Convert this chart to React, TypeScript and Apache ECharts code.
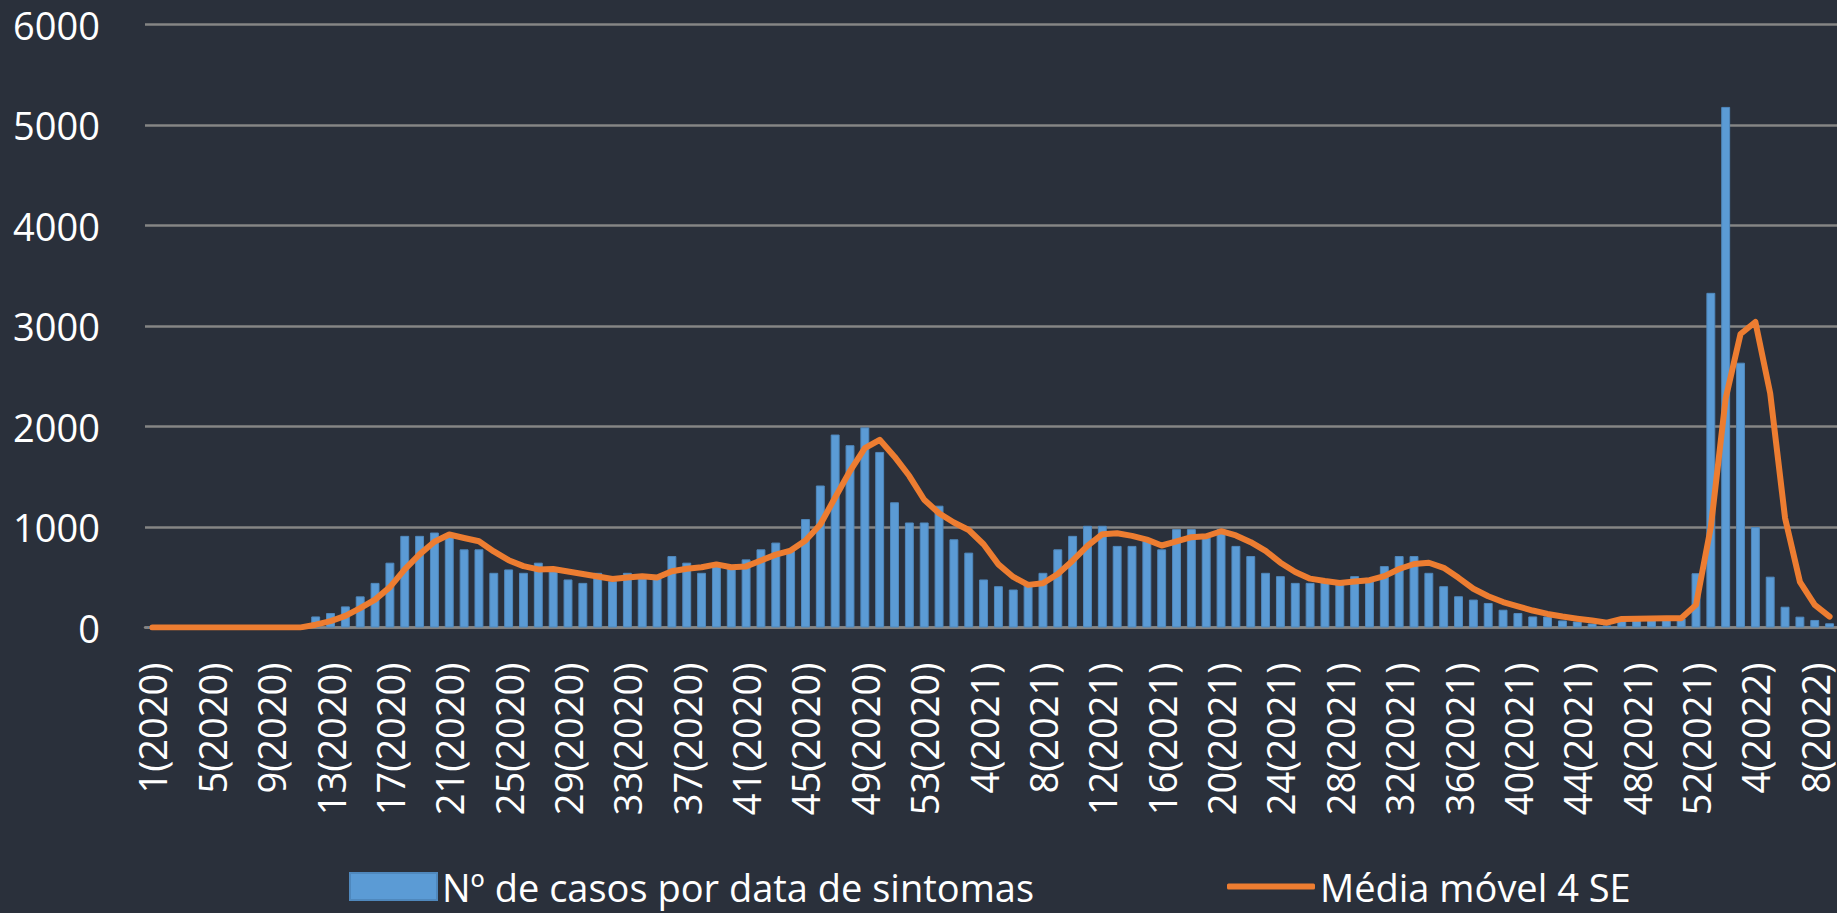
import React, { useEffect, useRef } from "react";
import * as echarts from "echarts";

const weeks2020 = 53;
const weeks2021 = 52;
const weeks2022 = 9;

const categories: string[] = [];
for (let w = 1; w <= weeks2020; w++) categories.push(`${w}(2020)`);
for (let w = 1; w <= weeks2021; w++) categories.push(`${w}(2021)`);
for (let w = 1; w <= weeks2022; w++) categories.push(`${w}(2022)`);

const casos2020 = [
  1, 0, 0, 0, 0, 0, 0, 0, 0, 1, 3, 110, 144, 210, 310, 444, 645, 912, 912, 945,
  929, 778, 778, 544, 578, 544, 645, 560, 478, 444, 544, 461, 544, 490, 494, 711,
  645, 544, 611, 600, 678, 778, 845, 762, 1079, 1413, 1920, 1814, 1991, 1747, 1246,
  1045, 1045,
];
const casos2021 = [
  1212, 878, 745, 478, 411, 378, 427, 544, 778, 912, 1012, 1012, 812, 812, 860, 778,
  979, 979, 895, 979, 812, 711, 544, 511, 444, 444, 450, 428, 511, 494, 611, 711,
  711, 544, 411, 311, 278, 244, 177, 144, 110, 110, 70, 60, 40, 20, 90, 90, 90, 90,
  90, 540,
];
const casos2022 = [3330, 5180, 2635, 1000, 506, 207, 108, 75, 42];

const media2020 = [
  0, 0, 0, 0, 0, 0, 0, 0, 0, 0, 1, 28, 64, 116, 193, 277, 402, 578, 728, 853, 925,
  891, 858, 757, 670, 611, 578, 582, 557, 532, 507, 482, 498, 510, 497, 560, 585,
  599, 628, 600, 608, 667, 725, 766, 866, 1025, 1294, 1557, 1785, 1868, 1700, 1507,
  1271,
];
const media2021 = [
  1137, 1045, 970, 828, 628, 503, 424, 440, 532, 665, 812, 929, 937, 912, 874, 816,
  857, 899, 908, 958, 916, 849, 762, 645, 553, 486, 462, 442, 458, 471, 511, 582,
  632, 644, 594, 494, 386, 311, 253, 211, 169, 135, 109, 88, 70, 48, 85, 88, 90, 92,
  92, 225,
];
const media2022 = [1000, 2280, 2920, 3040, 2330, 1090, 455, 225, 108];

const casos = [...casos2020, ...casos2021, ...casos2022];
const media = [...media2020, ...media2021, ...media2022];

const yTicks = { min: 0, max: 6000, interval: 1000 };

const seriesNames = ["Nº de casos por data de sintomas", "Média móvel 4 SE"];

const FONT = "'Open Sans', 'Noto Sans', sans-serif";

export default function App() {
  const ref = useRef<HTMLDivElement>(null);

  useEffect(() => {
    if (!ref.current) return;
    const chart = echarts.init(ref.current, null, { renderer: "svg" });
    const legendText = {
      color: "#ffffff",
      fontSize: 38,
      fontFamily: FONT,
      lineHeight: 38,
      padding: [4, 0, 0, 0],
    };
    chart.setOption({
      animation: false,
      backgroundColor: "#2a303b",
      grid: { left: 145, right: -3, top: 24.5, bottom: 285.5, containLabel: false },
      legend: [
        {
          data: [{ name: seriesNames[0], icon: "rect" }],
          left: 349,
          top: 865.5,
          padding: 0,
          itemWidth: 87,
          itemHeight: 27,
          itemGap: 9,
          textStyle: legendText,
          selectedMode: false,
        },
        {
          data: [{ name: seriesNames[1], icon: "roundRect" }],
          left: 1227,
          top: 865.5,
          padding: 0,
          itemWidth: 88,
          itemHeight: 6,
          itemGap: 6,
          textStyle: legendText,
          selectedMode: false,
        },
      ],
      xAxis: {
        type: "category",
        data: categories,
        boundaryGap: true,
        axisLine: { show: true, lineStyle: { color: "#858585", width: 2.5 } },
        axisTick: { show: false },
        axisLabel: {
          interval: 3,
          rotate: 90,
          margin: 35,
          color: "#ffffff",
          fontSize: 38,
          fontFamily: FONT,
          hideOverlap: false,
        },
        splitLine: { show: false },
      },
      yAxis: {
        type: "value",
        min: yTicks.min,
        max: yTicks.max,
        interval: yTicks.interval,
        axisLine: { show: false },
        axisTick: { show: false },
        axisLabel: {
          color: "#ffffff",
          fontSize: 38,
          fontFamily: FONT,
          margin: 45,
          padding: [9, 0, 0, 0],
          formatter: (v: number) => String(v),
        },
        splitLine: { show: true, lineStyle: { color: "#858585", width: 2.5 } },
      },
      series: [
        {
          name: seriesNames[0],
          type: "bar",
          data: casos,
          barCategoryGap: "40%",
          itemStyle: { color: "#5b9bd5", borderColor: "#4f88bd", borderWidth: 1 },
          z: 2,
        },
        {
          name: seriesNames[1],
          type: "line",
          data: media,
          symbol: "none",
          showSymbol: false,
          lineStyle: { color: "#ed7d31", width: 6, cap: "round", join: "round" },
          itemStyle: { color: "#ed7d31" },
          z: 3,
        },
      ],
    });
    return () => chart.dispose();
  }, []);

  return (
    <div
      ref={ref}
      style={{ position: "fixed", left: 0, top: 0, width: 1837, height: 913 }}
    />
  );
}
